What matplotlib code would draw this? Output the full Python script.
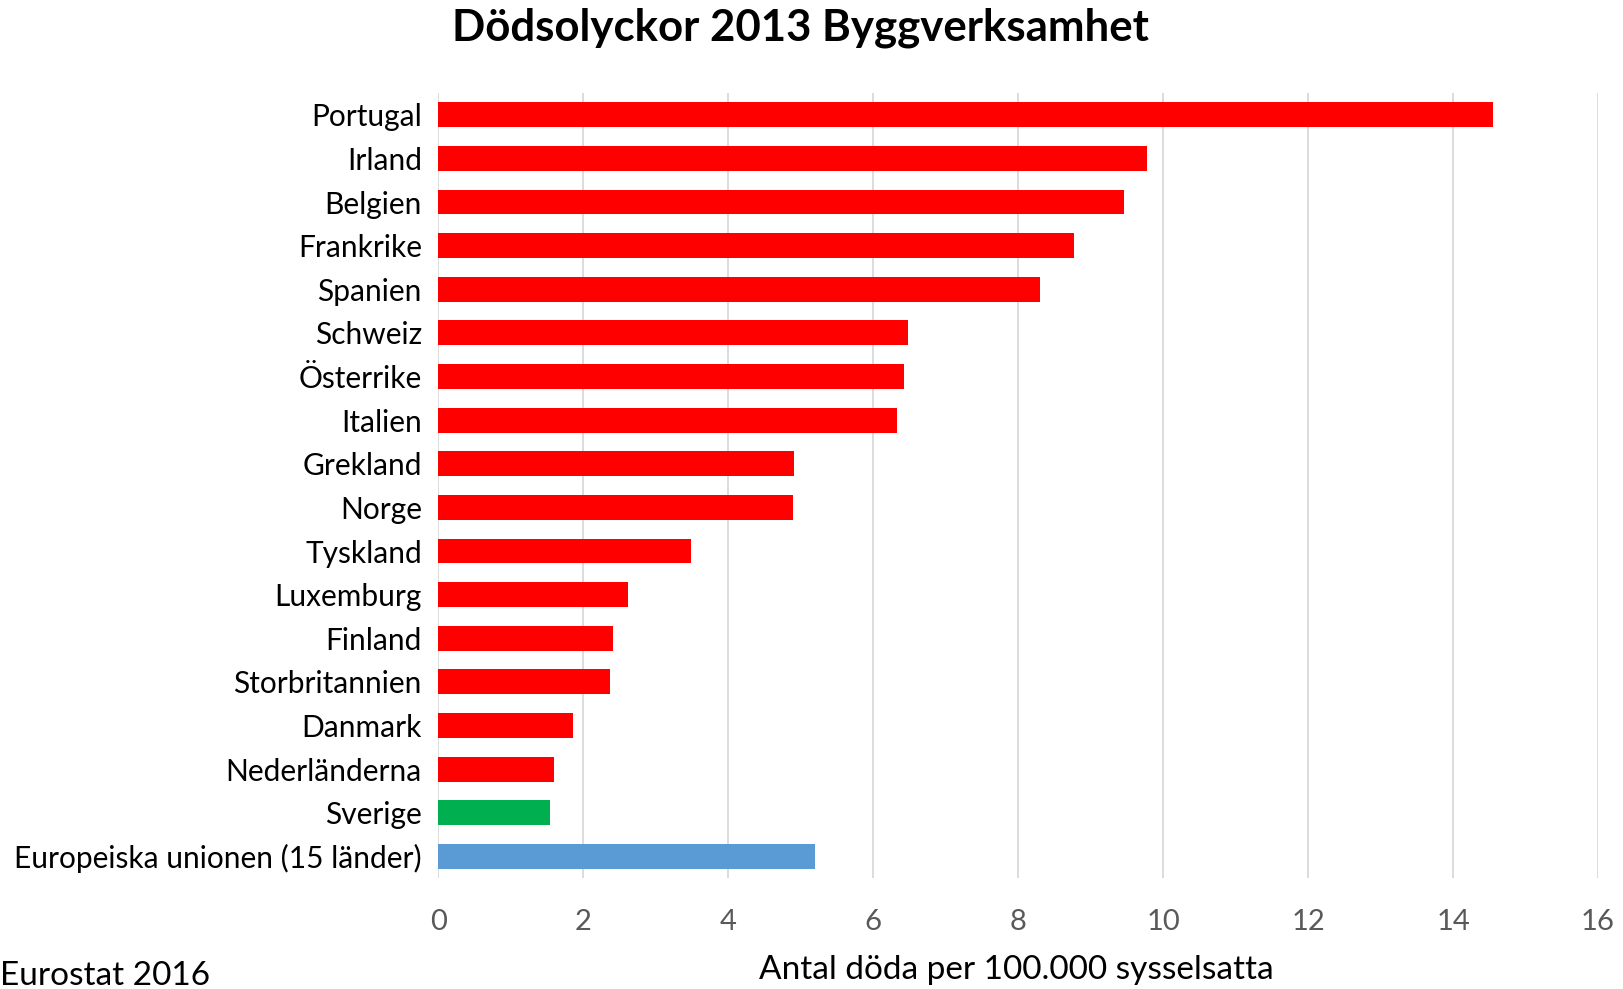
import matplotlib
matplotlib.use('Agg')
import matplotlib.pyplot as plt

# data (top to bottom)
countries = ['Portugal', 'Irland', 'Belgien', 'Frankrike', 'Spanien', 'Schweiz',
             'Österrike', 'Italien', 'Grekland', 'Norge', 'Tyskland', 'Luxemburg',
             'Finland', 'Storbritannien', 'Danmark', 'Nederländerna', 'Sverige',
             'Europeiska unionen (15 länder)']
values = [14.55, 9.78, 9.46, 8.77, 8.30, 6.48, 6.42, 6.33, 4.90, 4.89, 3.49, 2.61,
          2.41, 2.36, 1.85, 1.60, 1.54, 5.20]
colors = ['#FF0000'] * 16 + ['#00B050', '#5B9BD5']
xticks = [0, 2, 4, 6, 8, 10, 12, 14, 16]

plt.rcParams['font.family'] = ['Lato', 'DejaVu Sans']

fig = plt.figure(figsize=(16.24, 9.89), dpi=100)
ax = fig.add_axes([0.270, 0.112, 0.714, 0.794])

ypos = list(range(len(countries)))
ax.barh(ypos, values, height=0.57, color=colors, zorder=3)

ax.set_ylim(len(countries) - 0.5, -0.5)
ax.set_xlim(0, 16)
ax.set_yticks(ypos)
ax.set_yticklabels(countries, fontsize=21.5, color='#000000')
ax.set_xticks(xticks)
ax.set_xticklabels([str(t) for t in xticks], fontsize=21, color='#595959')
ax.tick_params(axis='both', length=0)
ax.tick_params(axis='y', pad=12)
ax.tick_params(axis='x', pad=22)
ax.xaxis.grid(True, color='#D9D9D9', linewidth=1.3, zorder=0)
for s in ax.spines.values():
    s.set_visible(False)

fig.text(0.493, 0.972, 'Dödsolyckor 2013 Byggverksamhet', ha='center', va='center',
         fontsize=31.5, fontweight='bold')
fig.text(0.626, 0.019, 'Antal döda per 100.000 sysselsatta', ha='center', va='center',
         fontsize=24, color='#000000')
fig.text(0.0, 0.004, 'Eurostat 2016', ha='left', va='baseline', fontsize=24)

fig.savefig('out.png', dpi=100)
